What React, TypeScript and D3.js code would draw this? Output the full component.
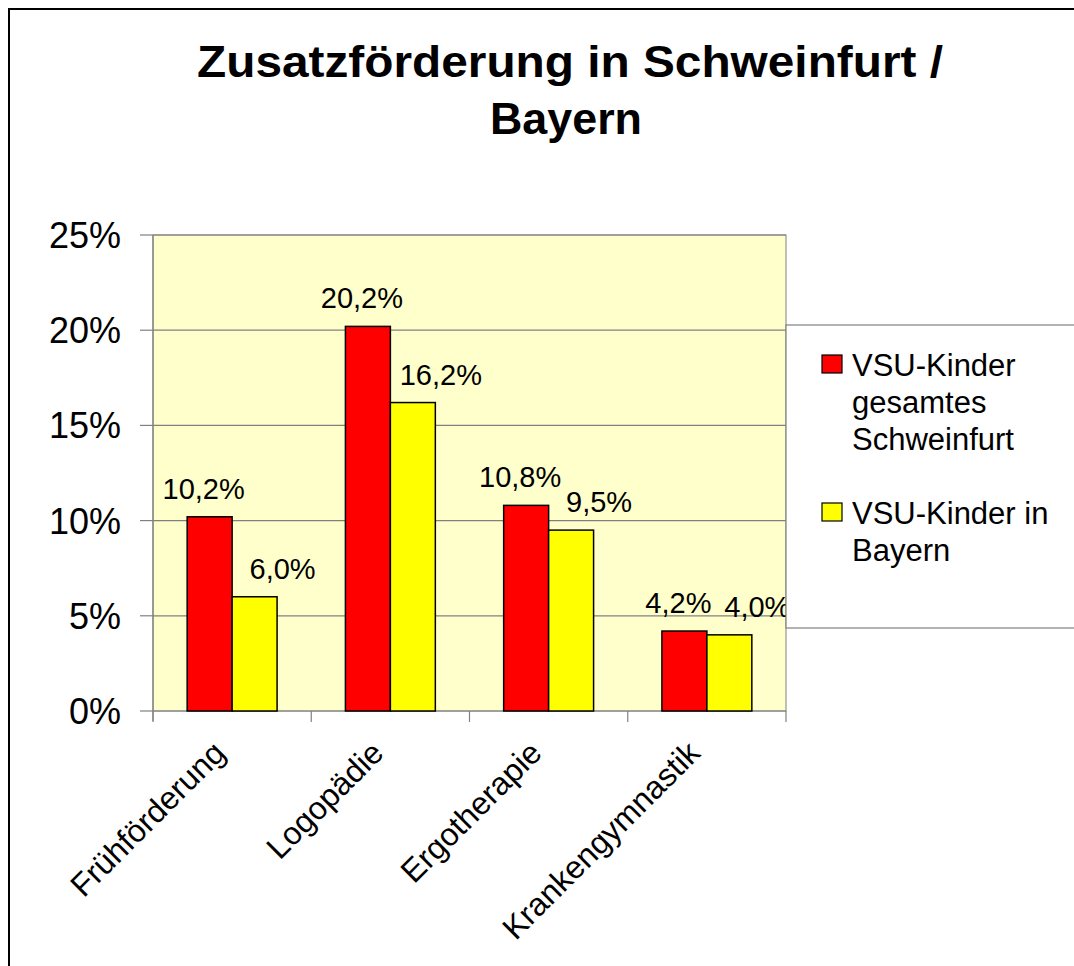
import * as d3 from 'd3'
import { useMemo } from 'react'

const categories = ['Frühförderung', 'Logopädie', 'Ergotherapie', 'Krankengymnastik']
const seriesNames = [
  ['VSU-Kinder', 'gesamtes', 'Schweinfurt'],
  ['VSU-Kinder in', 'Bayern'],
]
const schweinfurt = [10.2, 20.2, 10.8, 4.2]
const bayern = [6.0, 16.2, 9.5, 4.0]
const yTicks = [0, 5, 10, 15, 20, 25]
const colors = ['#ff0000', '#ffff00']

const FONT = '"Liberation Sans", Arial, sans-serif'

const App = () => {
  const width = 1074
  const height = 966
  const plot = { left: 153, right: 786, top: 235, bottom: 711 }

  const xScale = useMemo(
    () => d3.scaleBand<string>().domain(categories).range([plot.left, plot.right]).paddingInner(0).paddingOuter(0),
    []
  )
  const innerScale = useMemo(
    () => d3.scaleBand<number>().domain([0, 1]).range([0, xScale.bandwidth()]).paddingInner(0).paddingOuter(0.76),
    [xScale]
  )
  const yScale = useMemo(() => d3.scaleLinear().domain([0, 25]).range([plot.bottom, plot.top]), [])

  const fmt = (v: number) => v.toFixed(1).replace('.', ',') + '%'
  const series = [schweinfurt, bayern]
  // labels of the second series sit a bit to the right, like Excel pushed them
  const labelShift = [-6, 28]

  return (
    <svg width={width} height={height} style={{ position: 'absolute', left: 0, top: 0, background: '#fff' }} fontFamily={FONT}>
      {/* outer chart frame (cropped on right and bottom) */}
      <line x1={8} x2={width} y1={9} y2={9} stroke="#000" strokeWidth={2} />
      <line x1={9} x2={9} y1={8} y2={height} stroke="#000" strokeWidth={2} />

      {/* title */}
      <text x={570} y={77} textAnchor="middle" fontSize={45} fontWeight="bold" textLength={746} lengthAdjust="spacingAndGlyphs">
        Zusatzförderung in Schweinfurt /
      </text>
      <text x={566} y={134} textAnchor="middle" fontSize={45} fontWeight="bold" textLength={152} lengthAdjust="spacingAndGlyphs">
        Bayern
      </text>

      {/* plot area */}
      <rect x={plot.left} y={plot.top} width={plot.right - plot.left} height={plot.bottom - plot.top} fill="#ffffcc" stroke="#808080" />
      {yTicks.map((t) => (
        <g key={t}>
          <line x1={plot.left} x2={plot.right} y1={yScale(t)} y2={yScale(t)} stroke="#808080" strokeWidth={1.2} />
          <line x1={140} x2={plot.left} y1={yScale(t)} y2={yScale(t)} stroke="#808080" strokeWidth={1.2} />
          <text x={121} y={yScale(t)} dy="0.36em" textAnchor="end" fontSize={36}>{t}%</text>
        </g>
      ))}
      <line x1={plot.left} x2={plot.left} y1={plot.top} y2={plot.bottom + 10} stroke="#808080" strokeWidth={1.2} />

      {/* category ticks */}
      {[...categories.map((c) => xScale(c) as number), plot.right].map((x, i) => (
        <line key={i} x1={x} x2={x} y1={plot.bottom} y2={plot.bottom + 11} stroke="#808080" strokeWidth={1.2} />
      ))}

      {/* bars */}
      {categories.map((c, ci) => (
        <g key={c} transform={`translate(${xScale(c)},0)`}>
          {series.map((s, si) => {
            const x = innerScale(si) as number
            const w = innerScale.bandwidth()
            const y = yScale(s[ci])
            return (
              <g key={si}>
                <rect x={x} y={y} width={w} height={plot.bottom - y} fill={colors[si]} stroke="#000" strokeWidth={1.5} />
                <text x={x + w / 2 + labelShift[si]} y={y - 18} textAnchor="middle" fontSize={29}>{fmt(s[ci])}</text>
              </g>
            )
          })}
        </g>
      ))}

      {/* category labels */}
      {categories.map((c) => {
        const cx = (xScale(c) as number) + xScale.bandwidth() / 2
        return (
          <text key={c} transform={`translate(${cx - 5},${plot.bottom + 44}) rotate(-45)`} textAnchor="end" fontSize={32}>
            {c}
          </text>
        )
      })}

      {/* legend */}
      <rect x={786} y={325} width={400} height={303} fill="#fff" stroke="#808080" strokeWidth={1.2} />
      {seriesNames.map((lines, si) => {
        const top = si === 0 ? 376 : 524
        return (
          <g key={si}>
            <rect x={822} y={top - 21} width={20} height={18} fill={colors[si]} stroke="#000" strokeWidth={1.2} />
            {lines.map((l, li) => (
              <text key={li} x={852} y={top + li * 37} fontSize={31}>{l}</text>
            ))}
          </g>
        )
      })}
    </svg>
  )
}

export default App
